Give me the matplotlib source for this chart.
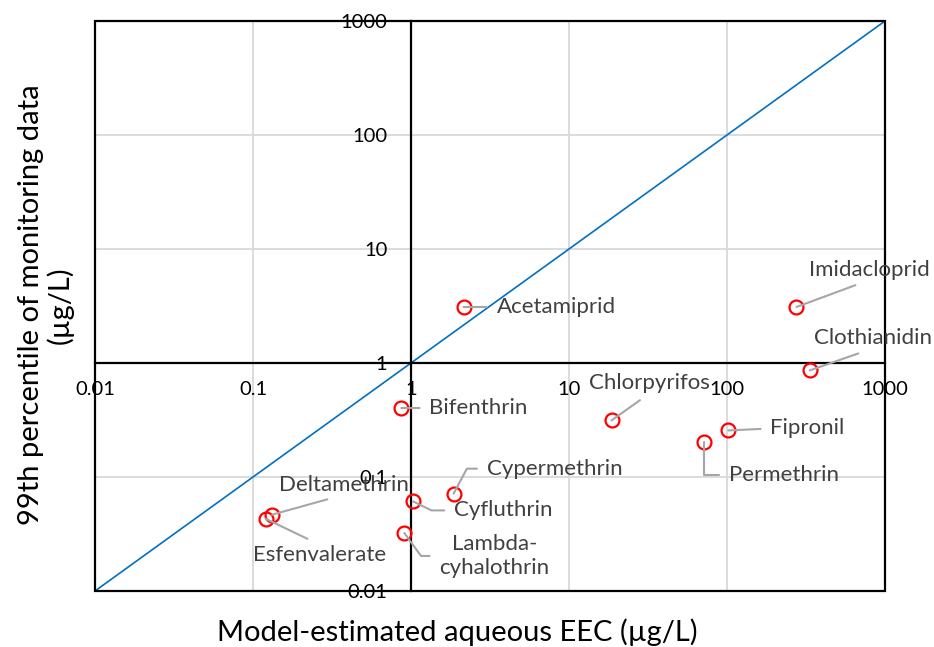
#!/usr/bin/env python3
"""EEC vs monitoring data, log-log scatter with 1:1 line"""

import matplotlib
matplotlib.use("Agg")
import matplotlib.pyplot as plt
from matplotlib.patches import Rectangle
from matplotlib.ticker import FixedLocator, NullLocator

plt.rcParams["font.family"] = ["Lato", "DejaVu Sans"]

# chemical names and values (ug/L)
names = ["Acetamiprid", "Imidacloprid", "Clothianidin", "Bifenthrin",
         "Chlorpyrifos", "Fipronil", "Permethrin", "Cypermethrin",
         "Cyfluthrin", "Lambda-\ncyhalothrin", "Deltamethrin", "Esfenvalerate"]
eec = [2.15, 275, 334, 0.868, 18.6, 102, 71.5, 1.86, 1.03, 0.907, 0.132, 0.120]
monitor = [3.10, 3.10, 0.861, 0.403, 0.314, 0.256, 0.201, 0.0714, 0.0611,
           0.0323, 0.0467, 0.0431]

one_to_one = [0.01, 1000]
decades = [0.01, 0.1, 1, 10, 100, 1000]
decade_labels = ["0.01", "0.1", "1", "10", "100", "1000"]

# label placement: offset in pixels, relpos of the leader on the text box,
# horizontal alignment, and leader angle at the point (None = straight)
label_style = {
    "Acetamiprid": ((33, 0), (0, 0.5), "left", None),
    "Imidacloprid": ((73, 37), (0.5, 0), "center", None),
    "Clothianidin": ((63, 32), (0.5, 0), "center", None),
    "Bifenthrin": ((28, 0), (0, 0.5), "left", None),
    "Chlorpyrifos": ((38, 37), (0.5, 0), "center", None),
    "Fipronil": ((42, 2), (0, 0.5), "left", None),
    "Permethrin": ((25, -33), (0, 0.5), "left", 90),
    "Cypermethrin": ((33, 25), (0, 0.5), "left", 62),
    "Cyfluthrin": ((41, -9), (0, 0.5), "left", -26),
    "Lambda-\ncyhalothrin": ((90, -23), (0, 0.5), "center", -54),
    "Deltamethrin": ((72, 30), (0.5, 0), "center", None),
    "Esfenvalerate": ((54, -36), (0.5, 1), "center", None),
}


def plot(ax):
    ax.set_xscale("log")
    ax.set_yscale("log")
    ax.set_xlim(decades[0], decades[-1])
    ax.set_ylim(decades[0], decades[-1])

    ax.grid(True, which="major", color="#d9d9d9", linewidth=1.3, zorder=0)
    ax.plot(one_to_one, one_to_one, color="#0070c0", linewidth=1.2, zorder=2)

    # axes crossing at (1, 1), plus a plain outer box
    for side in ["left", "bottom"]:
        ax.spines[side].set_position(("data", 1))
    for side in ["top", "right"]:
        ax.spines[side].set_visible(False)
    for sp in ax.spines.values():
        sp.set_linewidth(1.6)
        sp.set_zorder(3)
    ax.add_patch(Rectangle((0, 0), 1, 1, transform=ax.transAxes, fill=False,
                           edgecolor="black", linewidth=1.6, zorder=3,
                           clip_on=False))

    ax.xaxis.set_major_locator(FixedLocator(decades))
    ax.yaxis.set_major_locator(FixedLocator(decades))
    ax.xaxis.set_minor_locator(NullLocator())
    ax.yaxis.set_minor_locator(NullLocator())
    ax.set_xticklabels(decade_labels)
    ax.set_yticklabels(decade_labels)
    ax.tick_params(axis="x", length=0, pad=13, labelsize=14.5)
    ax.tick_params(axis="y", length=0, pad=17, labelsize=14.5)

    ax.plot(eec, monitor, linestyle="none", marker="o", markersize=10,
            markerfacecolor="none", markeredgecolor="#ff0000",
            markeredgewidth=1.6, zorder=5)

    for name, x, y in zip(names, eec, monitor):
        offset, relpos, ha, angle = label_style[name]
        if angle is None:
            conn = "arc3"
        else:
            conn = f"angle,angleA=0,angleB={angle},rad=0"
        ax.annotate(name, xy=(x, y), xytext=offset, textcoords="offset pixels",
                    ha=ha, va="center", multialignment="center",
                    fontsize=16, color="#404040", zorder=6,
                    arrowprops=dict(arrowstyle="-", color="#a6a6a6", lw=1.5,
                                    relpos=relpos, shrinkA=5, shrinkB=0,
                                    connectionstyle=conn))


def main():
    fig = plt.figure(figsize=(9.34, 6.47), dpi=100)
    ax = fig.add_axes([95 / 934, 1 - 591 / 647, 790 / 934, 570 / 647])
    plot(ax)
    fig.text(457 / 934, 1 - 632 / 647, "Model-estimated aqueous EEC (\u00b5g/L)",
             ha="center", va="center", fontsize=21)
    fig.text(46 / 934, 1 - 305 / 647,
             "99th percentile of monitoring data\n(\u00b5g/L)",
             ha="center", va="center", rotation=90, fontsize=21,
             multialignment="center", linespacing=1.1)
    fig.savefig("out.png", dpi=100)


if __name__ == "__main__":
    main()
